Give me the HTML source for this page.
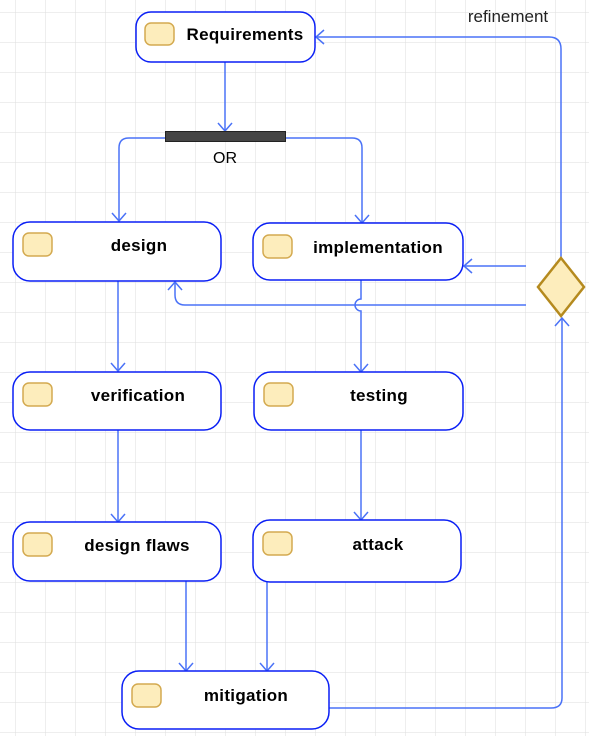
<!DOCTYPE html>
<html><head><meta charset="utf-8"><style>
html,body{margin:0;padding:0;background:#fff}
svg{display:block}
text{font-family:"Liberation Sans",sans-serif}
.n{fill:#fff;stroke:#0a1ff5;stroke-width:1.5}
.i{fill:#fdedbc;stroke:#d4aa50;stroke-width:1.5}
.c{fill:none;stroke:#4a72f7;stroke-width:1.5}
.l{font-weight:bold;font-size:17px;fill:#000;letter-spacing:0.3px}
</style></head><body>
<svg width="589" height="736" viewBox="0 0 589 736" xmlns="http://www.w3.org/2000/svg">
<defs>
<pattern id="g" x="15" y="12" width="30" height="30" patternUnits="userSpaceOnUse">
<path d="M0 0H30M0 0V30" stroke="#dedede" stroke-width="1" fill="none"/>
</pattern>
</defs>
<rect width="589" height="736" fill="url(#g)"/>

<path class="c" d="M225 62V131"/><path class="c" d="M218 123l7 8l7-8"/>
<path class="c" d="M165 138H129Q119 138 119 148V221"/><path class="c" d="M112 213l7 8l7-8"/>
<path class="c" d="M285 138H352Q362 138 362 148V223"/><path class="c" d="M355 215l7 8l7-8"/>
<path class="c" d="M118 281V371"/><path class="c" d="M111 363l7 8l7-8"/>
<path class="c" d="M118 430V522"/><path class="c" d="M111 514l7 8l7-8"/>
<path class="c" d="M361 280V299a6 6 0 0 0 0 12V372"/><path class="c" d="M354 364l7 8l7-8"/>
<path class="c" d="M361 430V520"/><path class="c" d="M354 512l7 8l7-8"/>
<path class="c" d="M186 581V671"/><path class="c" d="M179 663l7 8l7-8"/>
<path class="c" d="M267 582V671"/><path class="c" d="M260 663l7 8l7-8"/>
<path class="c" d="M329 708H551Q562 708 562 698V318"/><path class="c" d="M555 326l7-8l7 8"/>
<path class="c" d="M561 257V49Q561 37 549 37H316"/><path class="c" d="M324 30l-8 7l8 7"/>
<path class="c" d="M526 266H464"/><path class="c" d="M472 259l-8 7l8 7"/>
<path class="c" d="M526 305H185Q175 305 175 295V282"/><path class="c" d="M168 290l7-8l7 8"/>

<rect x="165.5" y="131.5" width="120" height="10" fill="#454545" stroke="#222" stroke-width="1"/>
<text x="225" y="163" text-anchor="middle" font-size="16" fill="#000">OR</text>
<text x="508" y="22" text-anchor="middle" font-size="17" fill="#222">refinement</text>

<path d="M561 258L584 287L561 316L538 287Z" fill="#fdedbc" stroke="#b58a1e" stroke-width="2.5"/>

<rect class="n" x="136" y="12" width="179" height="50" rx="15"/>
<rect class="i" x="145" y="23" width="29" height="22" rx="6"/>
<text class="l" x="245" y="40" text-anchor="middle">Requirements</text>

<rect class="n" x="13" y="222" width="208" height="59" rx="17"/>
<rect class="i" x="23" y="233" width="29" height="23" rx="6"/>
<text class="l" x="139" y="251" text-anchor="middle">design</text>

<rect class="n" x="253" y="223" width="210" height="57" rx="17"/>
<rect class="i" x="263" y="235" width="29" height="23" rx="6"/>
<text class="l" x="378" y="253" text-anchor="middle">implementation</text>

<rect class="n" x="13" y="372" width="208" height="58" rx="17"/>
<rect class="i" x="23" y="383" width="29" height="23" rx="6"/>
<text class="l" x="138" y="401" text-anchor="middle">verification</text>

<rect class="n" x="254" y="372" width="209" height="58" rx="17"/>
<rect class="i" x="264" y="383" width="29" height="23" rx="6"/>
<text class="l" x="379" y="401" text-anchor="middle">testing</text>

<rect class="n" x="13" y="522" width="208" height="59" rx="17"/>
<rect class="i" x="23" y="533" width="29" height="23" rx="6"/>
<text class="l" x="137" y="551" text-anchor="middle">design flaws</text>

<rect class="n" x="253" y="520" width="208" height="62" rx="17"/>
<rect class="i" x="263" y="532" width="29" height="23" rx="6"/>
<text class="l" x="378" y="550" text-anchor="middle">attack</text>

<rect class="n" x="122" y="671" width="207" height="58" rx="17"/>
<rect class="i" x="132" y="684" width="29" height="23" rx="6"/>
<text class="l" x="246" y="701" text-anchor="middle">mitigation</text>
</svg>
</body></html>
